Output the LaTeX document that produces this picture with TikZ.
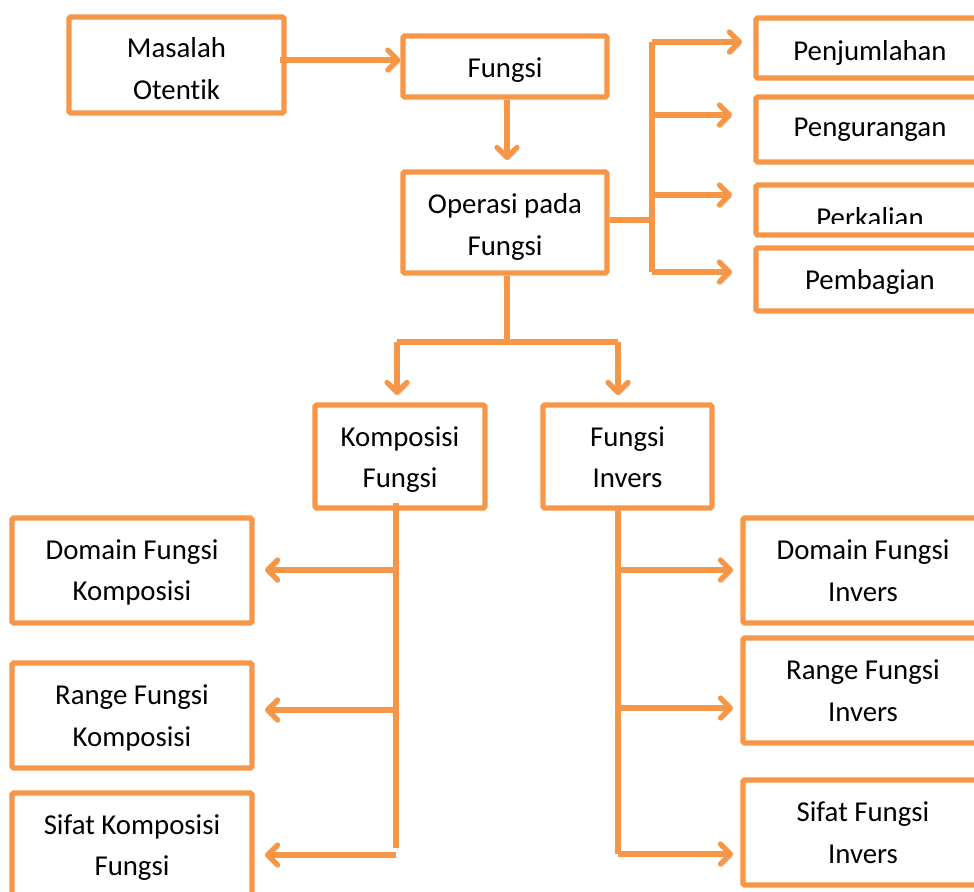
\documentclass[tikz,border=0pt]{standalone}
\usepackage{fontspec}
\setmainfont[Ligatures=NoCommon]{Carlito}
\usetikzlibrary{arrows.meta,calc}
\definecolor{org}{HTML}{F79646}
\begin{document}
\begin{tikzpicture}[x=0.5pt,y=-0.5pt,
  shad/.style={preaction={draw=black!45, opacity=0.3, transform canvas={shift={(0.9pt,-1.3pt)}}}},
  box/.style={draw=org, line width=2.6pt, rounded corners=0.8pt, inner sep=0pt, fill=white},
  bx/.style 2 args={box, minimum width=#1*0.5pt, minimum height=#2*0.5pt},
  txt/.style={inner sep=0pt, align=center, font=\fontsize{14.4}{20.75}\selectfont},
  ln/.style={draw=org, line width=2.6pt, shad},
  arr/.style={ln, -{Straight Barb[length=5pt,width=10pt,round]}}
]
\useasboundingbox (0,0) rectangle (974,891);
\clip (0,0) rectangle (974,891);

% boxes
\node[bx={215}{96}]  (mas)  at (176.5,65)   {};
\node[bx={204}{61}]  (fun)  at (505,66.5)   {};
\node[bx={204}{101}] (ope)  at (505,222.5)  {};
\node[bx={228}{60}]  (penj) at (870,48)     {};
\node[bx={228}{65}]  (peng) at (870,129.5)  {};
\node[bx={228}{50}]  (perk) at (870,210)    {};
\node[bx={228}{63}]  (pemb) at (870,279.5)  {};
\node[bx={170}{103}] (kom)  at (400,456.5)  {};
\node[bx={169}{103}] (inv)  at (627.5,456.5){};
\node[bx={240}{105}] (domk) at (132,570.5)  {};
\node[bx={240}{105}] (rank) at (132,715.5)  {};
\node[bx={240}{105}] (sifk) at (132,845.5)  {};
\node[bx={240}{105}] (domi) at (863,570.5)  {};
\node[bx={240}{105}] (rani) at (863,690.5)  {};
\node[bx={240}{105}] (sifi) at (863,832.5)  {};

% texts
\node[txt] (mast)  at ($(mas)+(0,3.5)$)  {Masalah\\Otentik};
\node[txt] (funt)  at ($(fun)+(0,4)$)    {Fungsi};
\node[txt] (opet)  at ($(ope)+(0,4.5)$)  {Operasi pada\\Fungsi};
\node[txt] (penjt) at ($(penj)+(0,5)$)   {Penjumlahan};
\node[txt] (pengt) at ($(peng)+(0,0.5)$) {Pengurangan};
\begin{scope}
  \clip (700,150) rectangle (974,223);
  \node[txt] (perkt) at (870,218) {Perkalian};
\end{scope}
\node[txt] (pembt) at ($(pemb)+(0,2)$)   {Pembagian};
\node[txt] (komt)  at ($(kom)+(0,3)$)    {Komposisi\\Fungsi};
\node[txt] (invt)  at ($(inv)+(0,0.5)$)  {Fungsi\\Invers};
\node[txt] (domkt) at ($(domk)+(0,2)$)   {Domain Fungsi\\Komposisi};
\node[txt] (rankt) at ($(rank)+(0,2.5)$) {Range Fungsi\\Komposisi};
\node[txt] (sifkt) at ($(sifk)+(0,2)$)   {Sifat Komposisi\\Fungsi};
\node[txt] (domit) at (domi)             {Domain Fungsi\\Invers};
\node[txt] (ranit) at (rani)             {Range Fungsi\\Invers};
\node[txt] (sifit) at (sifi)             {Sifat Fungsi\\Invers};

% coordinates
\coordinate (m1) at (280,60);
\coordinate (f1) at (507,160);
\coordinate (t0) at (652,220);
\coordinate (t1) at (652,42);
\coordinate (t2) at (652,115);
\coordinate (t3) at (652,195);
\coordinate (t4) at (652,272);
\coordinate (a1) at (742,42);
\coordinate (a2) at (732,115);
\coordinate (a3) at (732,195);
\coordinate (a4) at (732,272);
\coordinate (s0) at (507,342);
\coordinate (sl) at (397,342);
\coordinate (sr) at (618,342);
\coordinate (kl) at (397,395);
\coordinate (kr) at (618,395);
\coordinate (lt0) at (396,503);
\coordinate (lt1) at (396,848);
\coordinate (lb1) at (396,570);
\coordinate (lb2) at (396,710);
\coordinate (lb3) at (396,855);
\coordinate (la1) at (265,570);
\coordinate (la2) at (265,710);
\coordinate (la3) at (265,855);
\coordinate (rt0) at (618,508);
\coordinate (rt1) at (618,854);
\coordinate (rb1) at (618,570);
\coordinate (rb2) at (618,708);
\coordinate (ra1) at (733,570);
\coordinate (ra2) at (733,708);
\coordinate (ra3) at (733,854);

% connectors
\draw[arr] (m1) -- (m1 -| fun.west);
\draw[arr] (fun.south -| f1) -- (f1);
\draw[ln] (ope.east |- t0) -- (t0);
\draw[ln] (t1) -- (t4);
\draw[arr] (t1) -- (a1);
\draw[arr] (t2) -- (a2);
\draw[arr] (t3) -- (a3);
\draw[arr] (t4) -- (a4);
\draw[ln] (ope.south -| s0) -- (s0);
\draw[ln] (sl) -- (sr);
\draw[arr] (sl) -- (kl);
\draw[arr] (sr) -- (kr);
\draw[ln] (lt0) -- (lt1);
\draw[arr] (lb1) -- (la1);
\draw[arr] (lb2) -- (la2);
\draw[arr] (lb3) -- (la3);
\draw[ln] (rt0) -- (rb1) -- (rb2) -- (rt1);
\draw[arr] (rb1) -- (ra1);
\draw[arr] (rb2) -- (ra2);
\draw[arr] (rt1) -- (ra3);
\end{tikzpicture}
\end{document}
